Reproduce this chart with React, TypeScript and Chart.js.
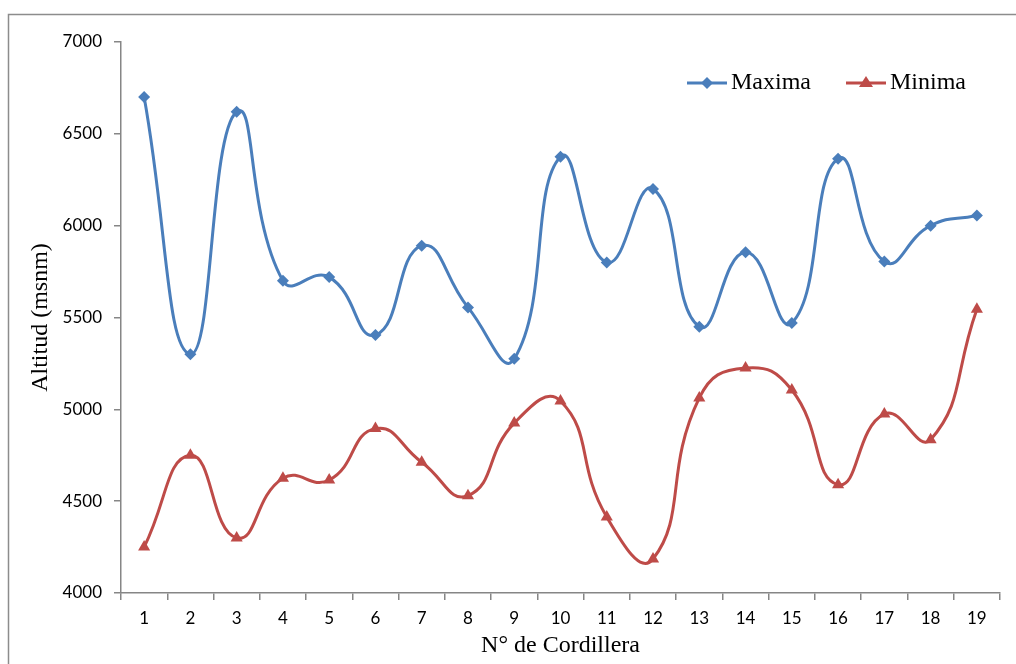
import React, { useEffect, useRef } from "react";
import { Chart, registerables } from "chart.js";

Chart.register(...registerables);

const categories = ["1","2","3","4","5","6","7","8","9","10","11","12","13","14","15","16","17","18","19"];
const maxima = [6700, 5300, 6620, 5700, 5720, 5405, 5890, 5555, 5275, 6375, 5800, 6200, 5450, 5855, 5470, 6365, 5805, 6000, 6055];
const minima = [4250, 4750, 4300, 4625, 4615, 4895, 4712, 4530, 4925, 5045, 4414, 4185, 5062, 5225, 5105, 4590, 4975, 4835, 5545];
const yTicks = [4000, 4500, 5000, 5500, 6000, 6500, 7000];

const BLUE = "#4a7ebb";
const RED = "#be4b48";
const AXIS = "#868686";
const SERIF = "'Liberation Serif', 'Times New Roman', serif";
const SANS = "Lato, 'Open Sans', sans-serif";

const framePlugin = {
  id: "frame",
  beforeDraw(chart: any) {
    const ctx = chart.ctx;
    ctx.save();
    ctx.fillStyle = "#ffffff";
    ctx.fillRect(0, 0, chart.width, chart.height);
    ctx.strokeStyle = "#8c8c8c";
    ctx.lineWidth = 1.5;
    ctx.beginPath();
    ctx.moveTo(8.5, chart.height + 5);
    ctx.lineTo(8.5, 14.5);
    ctx.lineTo(chart.width + 5, 14.5);
    ctx.stroke();
    ctx.restore();
  },
};

const legendPlugin = {
  id: "customLegend",
  afterDraw(chart: any) {
    const ctx = chart.ctx;
    const items = [
      { label: "Maxima", color: BLUE, style: "diamond", x: 687 },
      { label: "Minima", color: RED, style: "triangle", x: 846 },
    ];
    const y = 83;
    ctx.save();
    for (const it of items) {
      ctx.strokeStyle = it.color;
      ctx.fillStyle = it.color;
      ctx.lineWidth = 3;
      ctx.beginPath();
      ctx.moveTo(it.x, y);
      ctx.lineTo(it.x + 40, y);
      ctx.stroke();
      const cx = it.x + 20;
      ctx.beginPath();
      if (it.style === "diamond") {
        ctx.moveTo(cx, y - 6);
        ctx.lineTo(cx + 6, y);
        ctx.lineTo(cx, y + 6);
        ctx.lineTo(cx - 6, y);
      } else {
        ctx.moveTo(cx, y - 7);
        ctx.lineTo(cx + 7, y + 4);
        ctx.lineTo(cx - 7, y + 4);
      }
      ctx.closePath();
      ctx.fill();
      ctx.fillStyle = "#000000";
      ctx.font = `24px ${SERIF}`;
      ctx.textBaseline = "middle";
      ctx.textAlign = "left";
      ctx.fillText(it.label, it.x + 44, y);
    }
    ctx.restore();
  },
};

export default function App() {
  const ref = useRef<HTMLCanvasElement | null>(null);
  useEffect(() => {
    if (!ref.current) return;
    const chart = new Chart(ref.current, {
      type: "line",
      data: {
        labels: categories,
        datasets: [
          {
            label: "Maxima",
            data: maxima,
            borderColor: BLUE,
            backgroundColor: BLUE,
            borderWidth: 3,
            tension: 0.5,
            pointStyle: "rectRot",
            pointRadius: 6,
            pointBorderWidth: 0,
          },
          {
            label: "Minima",
            data: minima,
            borderColor: RED,
            backgroundColor: RED,
            borderWidth: 3,
            tension: 0.5,
            pointStyle: "triangle",
            pointRadius: 7,
            pointBorderWidth: 0,
          },
        ],
      },
      options: {
        responsive: false,
        animation: false,
        layout: { padding: { left: 0, right: 16, top: 42, bottom: 0 } },
        plugins: { legend: { display: false }, tooltip: { enabled: false } },
        scales: {
          x: {
            type: "category",
            offset: true,
            grid: {
              offset: true,
              drawOnChartArea: false,
              drawTicks: true,
              tickLength: 7,
              color: AXIS,
              lineWidth: 1.5,
            },
            border: { display: true, color: AXIS, width: 1.5 },
            ticks: { color: "#000", font: { family: SANS, size: 17 }, padding: 8, maxRotation: 0 },
            title: {
              display: true,
              text: "N° de Cordillera",
              color: "#000",
              font: { family: SERIF, size: 24 },
              padding: { top: 4, bottom: 4 },
            },
            afterFit(scale: any) {
              scale.height = 71;
            },
          },
          y: {
            min: 4000,
            max: 7000,
            afterBuildTicks(scale: any) {
              scale.ticks = yTicks.map((v) => ({ value: v }));
            },
            grid: {
              drawOnChartArea: false,
              drawTicks: true,
              tickLength: 7,
              color: AXIS,
              lineWidth: 1.5,
            },
            border: { display: true, color: AXIS, width: 1.5 },
            ticks: {
              color: "#000",
              font: { family: SANS, size: 17 },
              padding: 12,
              callback: (v: any) => String(v),
            },
            title: {
              display: true,
              text: "Altitud (msnm)",
              color: "#000",
              font: { family: SERIF, size: 24 },
              padding: { top: 26, bottom: 0 },
            },
            afterFit(scale: any) {
              scale.width = 121;
            },
          },
        },
      },
      plugins: [framePlugin, legendPlugin],
    } as any);
    return () => chart.destroy();
  }, []);
  return (
    <div style={{ position: "absolute", left: 0, top: 0, width: 1016, height: 664, overflow: "hidden" }}>
      <canvas ref={ref} width={1016} height={664} style={{ display: "block" }} />
    </div>
  );
}
